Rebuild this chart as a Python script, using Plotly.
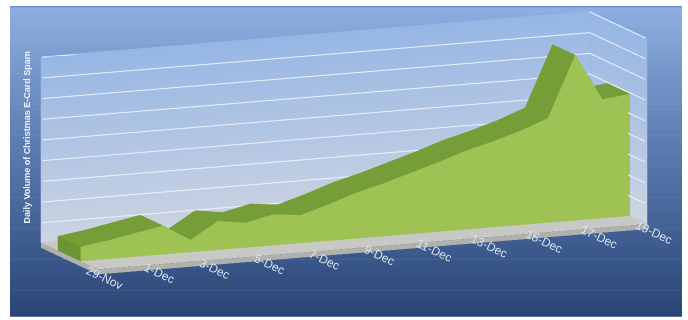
import plotly.graph_objects as go

# ---------------- data ----------------
dates = ["29-Nov", "30-Nov", "1-Dec", "2-Dec", "3-Dec", "4-Dec", "5-Dec", "6-Dec",
         "7-Dec", "8-Dec", "9-Dec", "10-Dec", "11-Dec", "12-Dec", "13-Dec", "14-Dec",
         "15-Dec", "16-Dec", "17-Dec", "18-Dec", "19-Dec"]
spam_volume = [14, 18, 23, 28, 12, 28, 24, 30, 27, 35, 44, 51, 59, 67, 76, 83,
               91, 101, 160, 115, 118]
tick_labels = dates[::2]
axis_title = "Daily Volume of Christmas E-Card Spam"
grid_step = 20
z_top = 180

# ---------------- styling ----------------
FRONT = "rgb(158,195,84)"
TOP = "rgb(118,158,56)"
SIDE = "rgb(108,148,50)"
FLOOR_TOP = "rgb(200,200,196)"
FLOOR_EDGE = "rgb(176,176,172)"
WALL_TOP = "rgb(150,182,228)"
WALL_BOT = "rgb(204,212,226)"
y_front, y_back = 0.30, 0.70          # depth slot of the series inside the floor
floor_thick = 5

n = len(spam_volume)
xmax = n - 1

# ---------------- slab (3D area) ----------------
X, Y, Z = [], [], []
for k, v in enumerate(spam_volume):
    for (yy, zz) in [(y_front, 0), (y_front, v), (y_back, 0), (y_back, v)]:
        X.append(k); Y.append(yy); Z.append(zz)
I, J, K, FC = [], [], [], []
def tri(a, b, c, col):
    I.append(a); J.append(b); K.append(c); FC.append(col)
for k in range(n - 1):
    fb, ft, bb, bt = 4 * k, 4 * k + 1, 4 * k + 2, 4 * k + 3
    fb2, ft2, bb2, bt2 = fb + 4, ft + 4, bb + 4, bt + 4
    tri(fb, fb2, ft2, FRONT); tri(fb, ft2, ft, FRONT)
    tri(ft, ft2, bt2, TOP); tri(ft, bt2, bt, TOP)
    tri(bb, bb2, bt2, TOP); tri(bb, bt2, bt, TOP)
tri(0, 2, 3, SIDE); tri(0, 3, 1, SIDE)
e = 4 * (n - 1)
tri(e, e + 2, e + 3, SIDE); tri(e, e + 3, e + 1, SIDE)

flat = dict(ambient=1, diffuse=0, specular=0, roughness=1, fresnel=0)

slab = go.Mesh3d(x=X, y=Y, z=Z, i=I, j=J, k=K, facecolor=FC, flatshading=True,
                 lighting=flat, hoverinfo="skip", showscale=False)

# ---------------- walls & floor ----------------
walls = go.Mesh3d(
    x=[0, xmax, xmax, 0, xmax, xmax, xmax, xmax],
    y=[1, 1, 1, 1, 0, 1, 1, 0],
    z=[0, 0, z_top, z_top, 0, 0, z_top, z_top],
    i=[0, 0, 4, 4], j=[1, 2, 5, 6], k=[2, 3, 6, 7],
    vertexcolor=[WALL_BOT, WALL_BOT, WALL_TOP, WALL_TOP,
                 WALL_BOT, WALL_BOT, WALL_TOP, WALL_TOP],
    lighting=flat, hoverinfo="skip", showscale=False)

fz = -floor_thick
floor = go.Mesh3d(
    x=[0, xmax, xmax, 0, 0, xmax, xmax, 0],
    y=[0, 0, 1, 1, 0, 0, 1, 1],
    z=[0, 0, 0, 0, fz, fz, fz, fz],
    i=[0, 0, 4, 4, 0, 0], j=[1, 2, 5, 1, 3, 7], k=[2, 3, 1, 0, 7, 4],
    facecolor=[FLOOR_TOP, FLOOR_TOP, FLOOR_EDGE, FLOOR_EDGE, FLOOR_EDGE, FLOOR_EDGE],
    lighting=flat, hoverinfo="skip", showscale=False)

gx, gy, gz = [], [], []
for zl in range(grid_step, z_top + 1, grid_step):
    gx += [0, xmax - 0.08, xmax - 0.08, None]
    gy += [0.97, 0.97, 0, None]
    gz += [zl, zl, zl, None]
grid = go.Scatter3d(x=gx, y=gy, z=gz, mode="lines",
                    line=dict(color="rgb(236,241,250)", width=2),
                    hoverinfo="skip", showlegend=False)

fig = go.Figure([walls, floor, grid, slab])

# background gradient (page frame)
top_c = (140, 174, 224)
mid_c = (86, 118, 172)
bot_c = (42, 70, 118)
nb = 60
y_lo, y_hi = 4 / 320, 314 / 320
for b in range(nb):
    t = b / (nb - 1)
    if t < 0.5:
        u = t / 0.5; c = [top_c[q] + (mid_c[q] - top_c[q]) * u for q in range(3)]
    else:
        u = (t - 0.5) / 0.5; c = [mid_c[q] + (bot_c[q] - mid_c[q]) * u for q in range(3)]
    y1 = y_hi - (y_hi - y_lo) * b / nb
    y0 = y_hi - (y_hi - y_lo) * (b + 1) / nb - 0.002
    fig.add_shape(type="rect", xref="paper", yref="paper", x0=10 / 688, x1=682 / 688,
                  y0=y0, y1=y1, line_width=0, layer="below",
                  fillcolor="rgb(%d,%d,%d)" % tuple(int(round(q)) for q in c))
fig.add_shape(type="rect", xref="paper", yref="paper", x0=10 / 688, x1=682 / 688,
              y0=y_hi - 0.004, y1=y_hi, line_width=0, layer="below",
              fillcolor="rgb(100,140,200)")

fig.add_annotation(text="<b>%s</b>" % axis_title, xref="paper", yref="paper",
                   x=20 / 688, y=0.57, textangle=-90, showarrow=False,
                   font=dict(family="Liberation Sans", size=9, color="rgb(236,240,248)"))

hidden = dict(showgrid=False, zeroline=False, showline=False, showbackground=False,
              showspikes=False, title=dict(text=""), ticks="")
fig.update_layout(
    width=688, height=320, margin=dict(l=0, r=0, t=0, b=0),
    paper_bgcolor="white", showlegend=False,
    scene=dict(
        domain=dict(x=[0, 1], y=[0.0, 1]),
        xaxis=dict(**hidden, range=[0, xmax], tickvals=list(range(0, n, 2)),
                   ticktext=tick_labels, showticklabels=True,
                   tickfont=dict(family="Liberation Sans", size=12, color="rgb(222,230,242)")),
        yaxis=dict(**hidden, range=[0, 1], showticklabels=False),
        zaxis=dict(**hidden, range=[-floor_thick, z_top], showticklabels=False),
        aspectmode="manual", aspectratio=dict(x=3.725, y=0.92, z=1.22),
        camera=dict(eye=dict(x=-0.690, y=-1.644, z=0.248), center=dict(x=0, y=0, z=-0.11),
                    up=dict(x=0, y=0, z=1), projection=dict(type="orthographic")),
        bgcolor="rgba(0,0,0,0)",
    ),
)
fig.write_html("out.html", config={"displayModeBar": False})
